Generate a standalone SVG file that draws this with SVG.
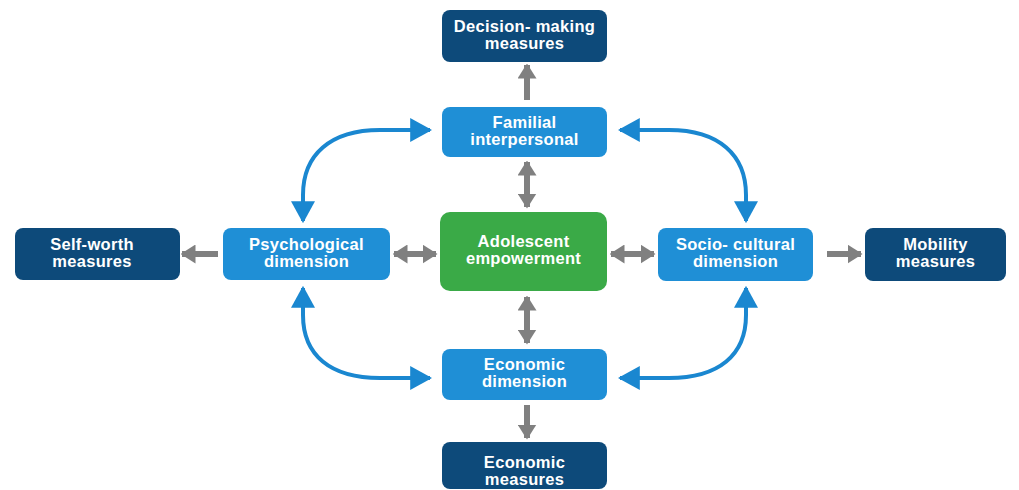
<svg xmlns="http://www.w3.org/2000/svg" width="1019" height="490" viewBox="0 0 1019 490">
<defs>
<style>
.dark{fill:#0d4a7a}
.light{fill:#1f8fd6}
.green{fill:#3aaa47}
text{font-family:"Liberation Sans",Arial,sans-serif;font-weight:bold;font-size:16.5px;letter-spacing:0.3px;fill:#ffffff;text-anchor:middle}
.g{stroke:#808080;stroke-width:6;fill:none}
.b{stroke:#1a87d0;stroke-width:4;fill:none}
</style>
<marker id="ga" viewBox="0 0 10 10" refX="9" refY="5" markerUnits="userSpaceOnUse" markerWidth="15" markerHeight="19" preserveAspectRatio="none" orient="auto-start-reverse">
<path d="M0,0 L10,5 L0,10 z" fill="#808080"/>
</marker>
<marker id="ba" viewBox="0 0 10 10" refX="9" refY="5" markerUnits="userSpaceOnUse" markerWidth="22" markerHeight="24" preserveAspectRatio="none" orient="auto-start-reverse">
<path d="M0,0 L10,5 L0,10 z" fill="#1a87d0"/>
</marker>
</defs>
<rect width="1019" height="490" fill="#ffffff"/>
<g id="connectors">
<line class="g" x1="527" y1="100" x2="527" y2="65" marker-end="url(#ga)"/>
<line class="g" x1="527" y1="162" x2="527" y2="207" marker-start="url(#ga)" marker-end="url(#ga)"/>
<line class="g" x1="527" y1="297" x2="527" y2="343" marker-start="url(#ga)" marker-end="url(#ga)"/>
<line class="g" x1="527" y1="405" x2="527" y2="438" marker-end="url(#ga)"/>
<line class="g" x1="218" y1="254" x2="182" y2="254" marker-end="url(#ga)"/>
<line class="g" x1="394" y1="254" x2="436" y2="254" marker-start="url(#ga)" marker-end="url(#ga)"/>
<line class="g" x1="611" y1="254" x2="654" y2="254" marker-start="url(#ga)" marker-end="url(#ga)"/>
<line class="g" x1="827" y1="254" x2="861" y2="254" marker-end="url(#ga)"/>
<path class="b" d="M303,221 L303,195 C303,155 330,130 380,130 L430,130" marker-start="url(#ba)" marker-end="url(#ba)"/>
<path class="b" d="M303,288 L303,315 C303,355 330,378 380,378 L430,378" marker-start="url(#ba)" marker-end="url(#ba)"/>
<path class="b" d="M746,221 L746,195 C746,155 719,130 669,130 L620,130" marker-start="url(#ba)" marker-end="url(#ba)"/>
<path class="b" d="M746,288 L746,315 C746,355 719,378 669,378 L620,378" marker-start="url(#ba)" marker-end="url(#ba)"/>
</g>
<g id="decision">
<rect class="dark" x="442" y="10" width="165" height="52" rx="8"/>
<text x="524.5" y="32">Decision- making</text>
<text x="524.5" y="49">measures</text>
</g>
<g id="familial">
<rect class="light" x="442" y="107" width="165" height="50" rx="8"/>
<text x="524.5" y="128">Familial</text>
<text x="524.5" y="145">interpersonal</text>
</g>
<g id="adolescent">
<rect class="green" x="440" y="212" width="167" height="79" rx="10"/>
<text x="523.5" y="247">Adolescent</text>
<text x="523.5" y="264">empowerment</text>
</g>
<g id="selfworth">
<rect class="dark" x="15" y="228" width="165" height="52" rx="8"/>
<text x="92" y="250">Self-worth</text>
<text x="92" y="267">measures</text>
</g>
<g id="psychological">
<rect class="light" x="223" y="228" width="167" height="52" rx="8"/>
<text x="306.5" y="250">Psychological</text>
<text x="306.5" y="267">dimension</text>
</g>
<g id="sociocultural">
<rect class="light" x="658" y="228" width="155" height="53" rx="8"/>
<text x="735.5" y="250">Socio- cultural</text>
<text x="735.5" y="267">dimension</text>
</g>
<g id="mobility">
<rect class="dark" x="865" y="228" width="141" height="53" rx="8"/>
<text x="935.5" y="250">Mobility</text>
<text x="935.5" y="267">measures</text>
</g>
<g id="economic">
<rect class="light" x="442" y="349" width="165" height="51" rx="8"/>
<text x="524.5" y="370">Economic</text>
<text x="524.5" y="387">dimension</text>
</g>
<g id="economicmeasures">
<rect class="dark" x="442" y="442" width="165" height="47" rx="8"/>
<text x="524.5" y="468">Economic</text>
<text x="524.5" y="485">measures</text>
</g>
</svg>
